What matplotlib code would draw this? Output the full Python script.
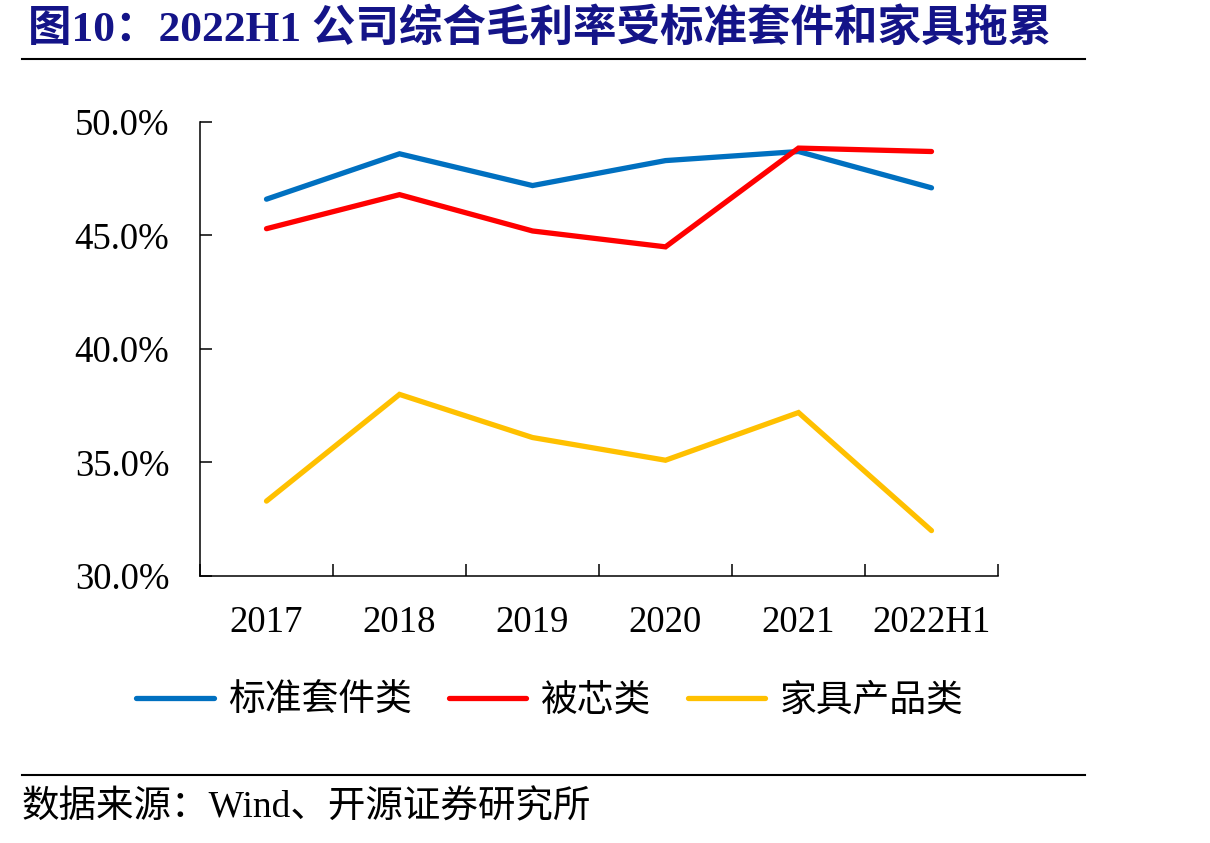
import matplotlib.pyplot as plt
from matplotlib.lines import Line2D
from matplotlib.ticker import FuncFormatter

categories = ['2017', '2018', '2019', '2020', '2021', '2022H1']
standard_kits = [46.6, 48.6, 47.2, 48.3, 48.7, 47.1]
quilt_cores = [45.3, 46.8, 45.2, 44.5, 48.85, 48.7]
furniture = [33.3, 38.0, 36.1, 35.1, 37.2, 32.0]
series_names = ['标准套件类', '被芯类', '家具产品类']
colors = ['#0070C0', '#FF0000', '#FFC000']

title = '图10：2022H1 公司综合毛利率受标准套件和家具拖累'
source = '数据来源：Wind、开源证券研究所'

serif = ['Liberation Serif', 'Noto Sans CJK SC']
cjk = ['Noto Sans CJK SC', 'Liberation Serif']

fig = plt.figure(figsize=(12.10, 8.43), dpi=100)
W, H = 1210, 843
ax = fig.add_axes([200 / W, 1 - 576 / H, (998 - 200) / W, (576 - 122) / H])

x = range(len(categories))
for vals, c in zip([standard_kits, quilt_cores, furniture], colors):
    ax.plot(x, vals, color=c, lw=3.8, solid_capstyle='round', solid_joinstyle='miter')

ax.set_xlim(-0.5, len(categories) - 0.5)
ax.set_ylim(30, 50)
ax.set_yticks([30, 35, 40, 45, 50])
ax.yaxis.set_major_formatter(FuncFormatter(lambda v, p: f'{v:.1f}%'))
ax.set_xticks([i - 0.5 for i in range(len(categories) + 1)])
ax.set_xticklabels([])
ax.set_xticks(list(x), minor=True)
ax.set_xticklabels(categories, minor=True)

ax.tick_params(axis='both', which='major', direction='in', length=8.6, width=1.1, color='black')
ax.tick_params(axis='x', which='minor', length=0, pad=21, labelsize=26.5)
ax.tick_params(axis='y', which='major', pad=22, labelsize=26.5)
for lbl in ax.get_xticklabels(minor=True) + ax.get_yticklabels():
    lbl.set_fontfamily(serif)

for s in ['top', 'right']:
    ax.spines[s].set_visible(False)
for s in ['left', 'bottom']:
    ax.spines[s].set_linewidth(1.1)

handles = [Line2D([], [], color=c, lw=3.8, solid_capstyle='round') for c in colors]
fig.legend(handles, series_names, loc='center', bbox_to_anchor=(550 / W, 1 - 700 / H),
           ncol=3, frameon=False, handlelength=2.1, handletextpad=0.4, columnspacing=1.0,
           prop={'family': cjk, 'size': 26.5})

fig.text(28 / W, 1 - 29 / H, title, ha='left', va='center', fontsize=31.3,
         fontweight='bold', color='#141488', family=serif)
fig.add_artist(Line2D([22 / W, 1085 / W], [1 - 59 / H, 1 - 59 / H], color='black', lw=1.5))
fig.add_artist(Line2D([22 / W, 1085 / W], [1 - 775 / H, 1 - 775 / H], color='black', lw=1.5))
fig.text(22 / W, 1 - 808 / H, source, ha='left', va='center', fontsize=27, family=serif)

fig.savefig('out.png', dpi=100)
